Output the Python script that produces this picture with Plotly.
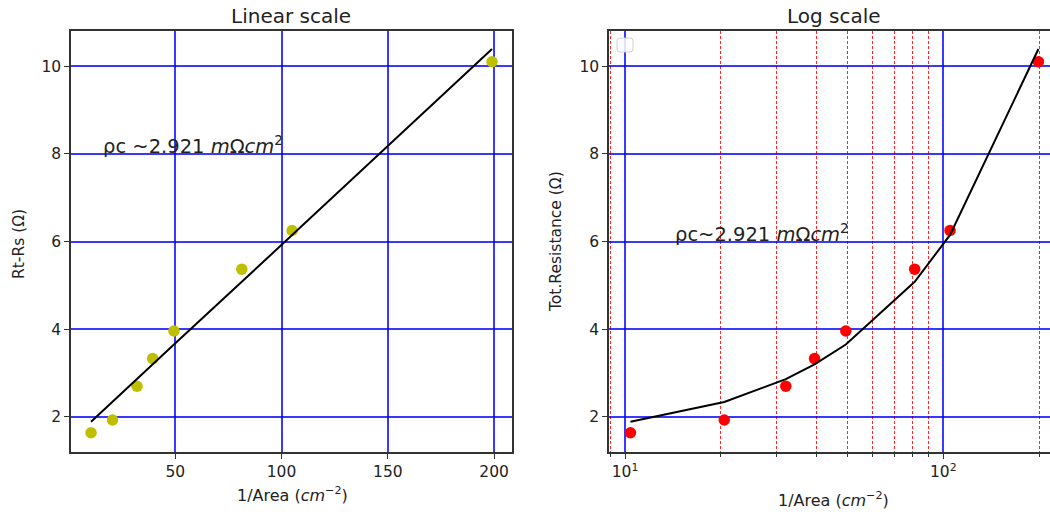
import numpy as np
import plotly.graph_objects as go

# ---------------- data ----------------
inv_area = [10.4, 20.5, 32.0, 39.4, 49.4, 81.3, 105.0, 199.0]          # 1/Area (cm^-2)
resistance = [1.64, 1.93, 2.70, 3.33, 3.96, 5.37, 6.25, 10.10]        # Ohm
fit_resistance = [1.89, 2.34, 2.86, 3.20, 3.65, 5.08, 6.15, 10.39]    # fitted line values

linear_x_ticks = [50, 100, 150, 200]
y_ticks = [2, 4, 6, 8, 10]
log_major_ticks = [10, 100]
log_major_text = ["10<sup>1</sup>", "10<sup>2</sup>"]
log_minor_ticks = [9, 20, 30, 40, 50, 60, 70, 80, 90, 200]

titles = ["Linear scale", "Log scale"]
y_titles = ["Rt-Rs (Ω)", "Tot.Resistance (Ω)"]
x_title = "1/Area (<i>cm</i><sup>−2</sup>)"
rho_text_left = "ρc ~2.921 <i>m</i>Ω<i>cm</i><sup>2</sup>"
rho_text_right = "ρc~2.921 <i>m</i>Ω<i>cm</i><sup>2</sup>"

# ---------------- layout helpers ----------------
W, H = 1050, 516
def px(x):
    return x / W
def py(y):
    return 1 - y / H

FONT = "DejaVu Sans"
TXT = "#222222"
GRID_BLUE = "rgba(0,0,255,0.78)"
SPINE = "#333333"

fig = go.Figure()

# left: linear scale
fig.add_trace(go.Scatter(x=inv_area, y=resistance, mode="markers",
                         marker=dict(color="#bfbf00", size=11.5),
                         xaxis="x", yaxis="y", hoverinfo="skip"))
fig.add_trace(go.Scatter(x=inv_area, y=fit_resistance, mode="lines",
                         line=dict(color="black", width=2),
                         xaxis="x", yaxis="y", hoverinfo="skip"))
# right: log scale
fig.add_trace(go.Scatter(x=inv_area, y=resistance, mode="markers",
                         marker=dict(color="#ff0000", size=11.5),
                         xaxis="x2", yaxis="y2", hoverinfo="skip"))
fig.add_trace(go.Scatter(x=inv_area, y=fit_resistance, mode="lines",
                         line=dict(color="black", width=2),
                         xaxis="x2", yaxis="y2", hoverinfo="skip"))

tickfont = dict(family=FONT, size=15.5, color=TXT)
ydom = [py(452), py(31)]

common = dict(showline=True, linecolor=SPINE, linewidth=1.5, ticks="outside",
              ticklen=5, tickwidth=1.3, tickcolor=SPINE, tickfont=tickfont,
              showgrid=True, gridcolor=GRID_BLUE, gridwidth=1.6, zeroline=False)

fig.update_layout(
    width=W, height=H,
    margin=dict(l=0, r=0, t=0, b=0),
    paper_bgcolor="white", plot_bgcolor="white",
    showlegend=False,
    xaxis=dict(domain=[px(71), px(512)], range=[0.97, 208.4], tickmode="array",
               tickvals=linear_x_ticks, mirror=True, anchor="y", **common),
    yaxis=dict(domain=ydom, range=[1.2, 10.8], tickmode="array",
               tickvals=y_ticks, mirror=True, anchor="x", **common),
    xaxis2=dict(type="log", domain=[px(609), 1.0], range=[0.9497, 2.3352],
                tickmode="array", tickvals=log_major_ticks, ticktext=log_major_text,
                mirror=True, anchor="y2",
                minor=dict(tickmode="array", tickvals=log_minor_ticks, showgrid=True,
                           gridcolor="rgba(255,0,0,0.85)", griddash="3px,2px",
                           gridwidth=1.3, ticks="outside", ticklen=3,
                           tickcolor=SPINE, tickwidth=1),
                **common),
    yaxis2=dict(domain=ydom, range=[1.2, 10.8], tickmode="array",
                tickvals=y_ticks, mirror=False, anchor="x2", **common),
)

def note(text, x, y, size, angle=0):
    return dict(text=text, x=px(x), y=py(y), xref="paper", yref="paper",
                xanchor="center", yanchor="middle", showarrow=False, textangle=angle,
                font=dict(family=FONT, size=size, color=TXT))

ann = [
    note(titles[0], 291, 16, 20),
    note(titles[1], 834, 16, 20),
    note(x_title, 292, 494, 16),
    note(x_title, 833, 499, 16),
    note(y_titles[0], 19, 244, 15.5, -90),
    note(y_titles[1], 556, 242, 15.5, -90),
]
# rho_c labels (baseline on the grid line)
ann.append(dict(text=rho_text_left, x=15, y=8, xref="x", yref="y",
                xanchor="left", yanchor="bottom", yshift=-6, showarrow=False,
                font=dict(family=FONT, size=19.5, color=TXT)))
ann.append(dict(text=rho_text_right, x=np.log10(14.2), y=6, xref="x2", yref="y2",
                xanchor="left", yanchor="bottom", yshift=-6, showarrow=False,
                font=dict(family=FONT, size=19.5, color=TXT)))
fig.update_layout(annotations=ann)

# empty legend box (as in the reference) - rounded rectangle
x0, x1, y0, y1, r = 617, 633, 38, 52, 3
path = (f"M {px(x0+r)},{py(y0)} L {px(x1-r)},{py(y0)} Q {px(x1)},{py(y0)} {px(x1)},{py(y0+r)} "
        f"L {px(x1)},{py(y1-r)} Q {px(x1)},{py(y1)} {px(x1-r)},{py(y1)} "
        f"L {px(x0+r)},{py(y1)} Q {px(x0)},{py(y1)} {px(x0)},{py(y1-r)} "
        f"L {px(x0)},{py(y0+r)} Q {px(x0)},{py(y0)} {px(x0+r)},{py(y0)} Z")
fig.add_shape(type="path", path=path, xref="paper", yref="paper",
              line=dict(color="#d0d0d0", width=1), fillcolor="rgba(255,255,255,0.85)")

fig.write_html("out.html")
